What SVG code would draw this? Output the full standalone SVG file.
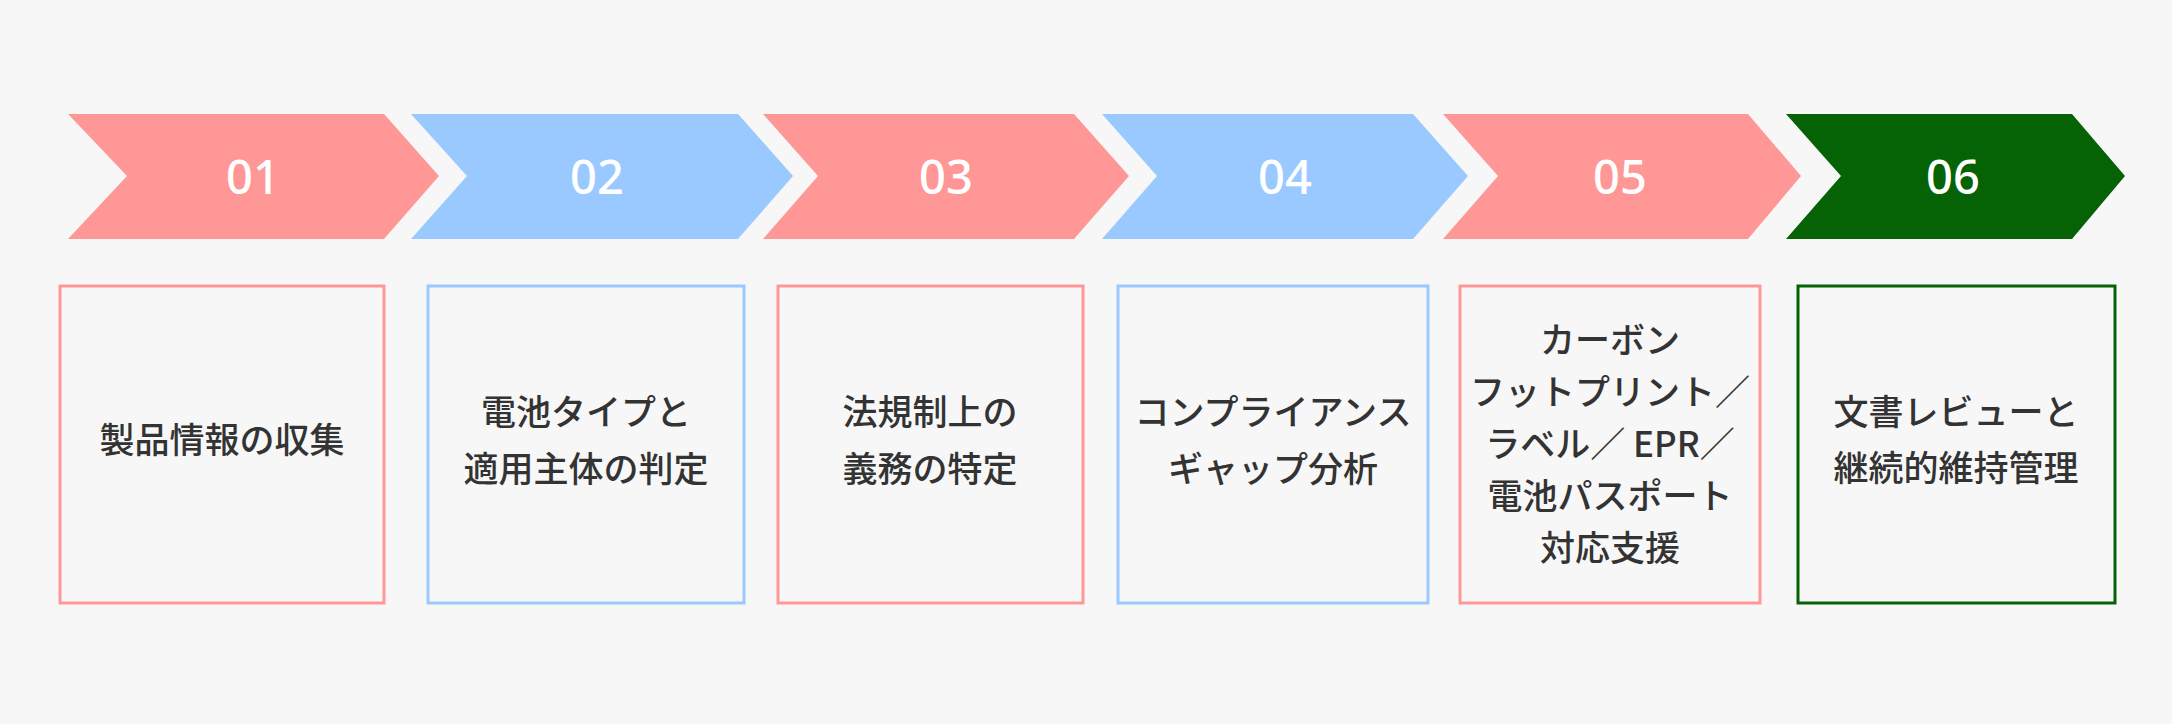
<svg xmlns="http://www.w3.org/2000/svg" width="2172" height="724" viewBox="0 0 2172 724">
<style>
.n{font-family:"Noto Sans","Noto Sans CJK JP",sans-serif;font-size:47px;font-weight:500;fill:#fff;text-anchor:middle;dominant-baseline:central}
.t{font-family:"Noto Sans CJK JP","Noto Sans",sans-serif;font-size:35px;font-weight:500;fill:#333;text-anchor:middle;dominant-baseline:central}
.b{fill:#F7F7F7;stroke-width:3}
.p{fill:#FF9797}.bl{fill:#99C9FF}.g{fill:#056205}
</style>
<rect width="2172" height="724" fill="#F7F7F7"/>
<g id="step1"><polygon class="p" points="68,114 384,114 439,176 384,239 68,239 127,176"/><text class="n" x="253" y="176">01</text>
<rect class="b" x="60" y="286" width="324" height="317" stroke="#FF9797"/><text class="t" x="222" y="437">製品情報の収集</text></g>
<g id="step2"><polygon class="bl" points="411,114 738,114 793,176 738,239 411,239 467,176"/><text class="n" x="597" y="176">02</text>
<rect class="b" x="428" y="286" width="316" height="317" stroke="#99C9FF"/><text class="t" x="586" y="409">電池タイプと</text><text class="t" x="586" y="466">適用主体の判定</text></g>
<g id="step3"><polygon class="p" points="763,114 1074,114 1129,176 1074,239 763,239 818,176"/><text class="n" x="946" y="176">03</text>
<rect class="b" x="778" y="286" width="305" height="317" stroke="#FF9797"/><text class="t" x="930" y="409">法規制上の</text><text class="t" x="930" y="466">義務の特定</text></g>
<g id="step4"><polygon class="bl" points="1102,114 1413,114 1468,176 1413,239 1102,239 1157,176"/><text class="n" x="1285" y="176">04</text>
<rect class="b" x="1118" y="286" width="310" height="317" stroke="#99C9FF"/><text class="t" x="1273" y="409">コンプライアンス</text><text class="t" x="1273" y="466">ギャップ分析</text></g>
<g id="step5"><polygon class="p" points="1443,114 1748,114 1801,176 1748,239 1443,239 1498,176"/><text class="n" x="1620" y="176">05</text>
<rect class="b" x="1460" y="286" width="300" height="317" stroke="#FF9797"/>
<text class="t" x="1610" y="337">カーボン</text><text class="t" x="1610" y="389">フットプリント／</text><text class="t" x="1610" y="441">ラベル／ EPR／</text><text class="t" x="1610" y="493">電池パスポート</text><text class="t" x="1610" y="545">対応支援</text></g>
<g id="step6"><polygon class="g" points="1786,114 2072,114 2125,176 2072,239 1786,239 1841,176"/><text class="n" x="1953" y="176">06</text>
<rect class="b" x="1798" y="286" width="317" height="317" stroke="#056205"/><text class="t" x="1956" y="409">文書レビューと</text><text class="t" x="1956" y="465">継続的維持管理</text></g>
<g id="connectors"/>
</svg>
